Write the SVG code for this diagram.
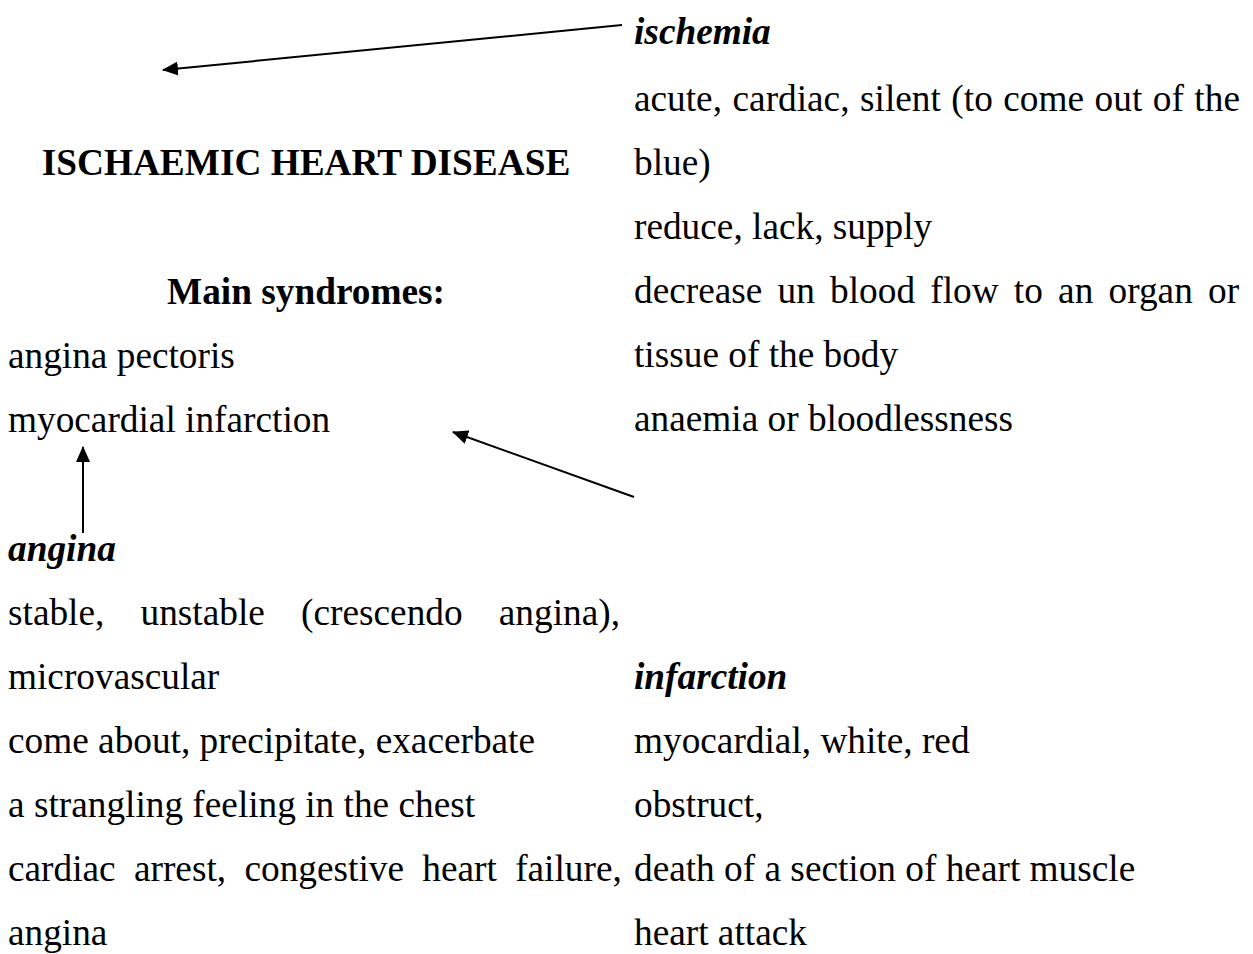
<svg xmlns="http://www.w3.org/2000/svg" width="1253" height="954" viewBox="0 0 1253 954">
<style>
text{font-family:"Liberation Serif","Times New Roman",serif;font-size:37.3px;fill:#000}
.b{font-weight:bold}
.c{text-anchor:middle}
.bi{font-weight:bold;font-style:italic}
.ln{stroke:#000;stroke-width:2;fill:none}
</style>
<defs>
<marker id="ah" viewBox="0 0 16 14" refX="15" refY="7" markerWidth="16" markerHeight="14" markerUnits="userSpaceOnUse" orient="auto">
<path d="M0,0 L16,7 L0,14 Z" fill="#000"/>
</marker>
</defs>
<rect width="1253" height="954" fill="#fff"/>
<g id="title">
<text class="b c" x="306" y="175">ISCHAEMIC HEART DISEASE</text>
</g>
<g id="main-syndromes">
<text class="b c" x="306" y="304">Main syndromes:</text>
<text x="8" y="368">angina pectoris</text>
<text x="8" y="432">myocardial infarction</text>
</g>
<g id="ischemia">
<text class="bi" x="634" y="44">ischemia</text>
<text x="634" y="111" word-spacing="1.2">acute, cardiac, silent (to come out of the</text>
<text x="634" y="175">blue)</text>
<text x="634" y="239">reduce, lack, supply</text>
<text x="634" y="303" word-spacing="5.9">decrease un blood flow to an organ or</text>
<text x="634" y="367">tissue of the body</text>
<text x="634" y="431">anaemia or bloodlessness</text>
</g>
<g id="angina">
<text class="bi" x="8" y="561">angina</text>
<text x="8" y="625" word-spacing="26.9">stable, unstable (crescendo angina),</text>
<text x="8" y="689">microvascular</text>
<text x="8" y="753">come about, precipitate, exacerbate</text>
<text x="8" y="817">a strangling feeling in the chest</text>
<text x="8" y="881" word-spacing="9">cardiac arrest, congestive heart failure,</text>
<text x="8" y="945">angina</text>
</g>
<g id="infarction">
<text class="bi" x="634" y="689">infarction</text>
<text x="634" y="753">myocardial, white, red</text>
<text x="634" y="817">obstruct,</text>
<text x="634" y="881">death of a section of heart muscle</text>
<text x="634" y="945">heart attack</text>
</g>
<g id="connectors">
<line class="ln" x1="622" y1="25" x2="163" y2="70" marker-end="url(#ah)"/>
<line class="ln" x1="634" y1="497" x2="453" y2="432" marker-end="url(#ah)"/>
<line class="ln" x1="83" y1="533" x2="83" y2="447" marker-end="url(#ah)"/>
</g>
</svg>
